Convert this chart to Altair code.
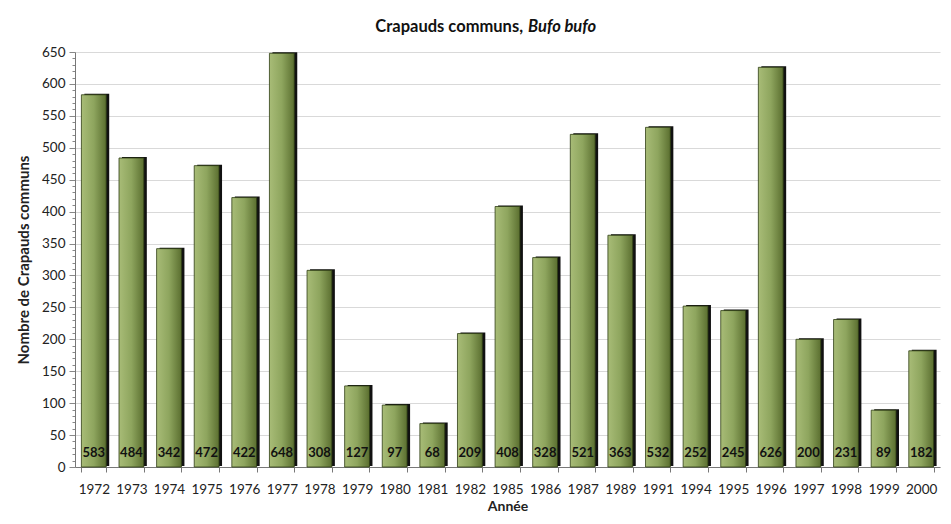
import altair as alt
import pandas as pd

years = ["1972", "1973", "1974", "1975", "1976", "1977", "1978", "1979", "1980", "1981",
         "1982", "1985", "1986", "1987", "1989", "1991", "1994", "1995", "1996", "1997",
         "1998", "1999", "2000"]
counts = [583, 484, 342, 472, 422, 648, 308, 127, 97, 68,
          209, 408, 328, 521, 363, 532, 252, 245, 626, 200,
          231, 89, 182]

tick_values = list(range(0, 651, 10))

df = pd.DataFrame({"Année": years, "n": counts})

FONT = "Lato"
W, H = 865, 415

xenc = alt.X("Année:N", sort=None,
             scale=alt.Scale(paddingInner=0.34, paddingOuter=0.17),
             axis=alt.Axis(title="Année", labelAngle=0, tickBand="extent",
                           labelFont=FONT, labelFontSize=13.5, labelColor="#222",
                           titleFont=FONT, titleFontSize=14, titleFontWeight="bold",
                           titleColor="#222", titlePadding=4,
                           domainColor="#777", tickColor="#777", tickSize=5,
                           labelPadding=10))
yscale = alt.Scale(domain=[0, 650], nice=False)

yaxis = alt.Axis(
    values=tick_values,
    labelExpr="datum.value % 50 === 0 ? datum.label : ''",
    title="Nombre de Crapauds communs",
    grid=True, gridColor="#d9d9d9",
    gridOpacity={"condition": {"test": "datum.value % 50 === 0", "value": 1}, "value": 0},
    tickSize={"condition": {"test": "datum.value % 50 === 0", "value": 6}, "value": 3},
    domainColor="#777", tickColor="#888",
    labelFont=FONT, labelFontSize=13.5, labelColor="#222", labelPadding=4,
    labelOverlap=False,
    titleFont=FONT, titleFontSize=15, titleFontWeight="bold",
    titleColor="#222", titlePadding=10,
)

base = alt.Chart(df)

shadow = base.mark_bar(color="#111", xOffset=3, yOffset=-1).encode(
    x=xenc,
    y=alt.Y("n:Q", scale=yscale, axis=yaxis),
)

grad = alt.Gradient(
    gradient="linear", x1=0, x2=1, y1=0, y2=0,
    stops=[alt.GradientStop(color="#a8bc77", offset=0),
           alt.GradientStop(color="#8ea55e", offset=0.5),
           alt.GradientStop(color="#5b6f30", offset=1)])

bars = base.mark_bar(fill=grad, stroke="#2f3d14", strokeWidth=0.8).encode(
    x=xenc,
    y=alt.Y("n:Q", scale=yscale, axis=yaxis),
)

labels = base.mark_text(font=FONT, fontSize=13, fontWeight="bold", color="#111",
                        dy=-14, baseline="middle").encode(
    x=xenc,
    y=alt.YDatum(0, scale=yscale, axis=yaxis),
    text="n:Q",
)

title1 = alt.Chart(pd.DataFrame({"t": ["Crapauds communs,"]})).mark_text(
    font=FONT, fontSize=16.5, fontWeight="bold", align="right", color="#111"
).encode(x=alt.value(448), y=alt.value(-25), text="t:N")
title2 = alt.Chart(pd.DataFrame({"t": ["Bufo bufo"]})).mark_text(
    font=FONT, fontSize=16.5, fontWeight="bold", fontStyle="italic", align="left", color="#111"
).encode(x=alt.value(453), y=alt.value(-25), text="t:N")

chart = alt.layer(shadow, bars, labels, title1, title2).properties(
    width=W, height=H,
    autosize=alt.AutoSizeParams(type="none"),
    padding={"left": 67, "top": 44, "right": 3, "bottom": 49},
).configure_view(stroke=None)

chart.save("out.html", embed_options={"renderer": "svg", "actions": False})
